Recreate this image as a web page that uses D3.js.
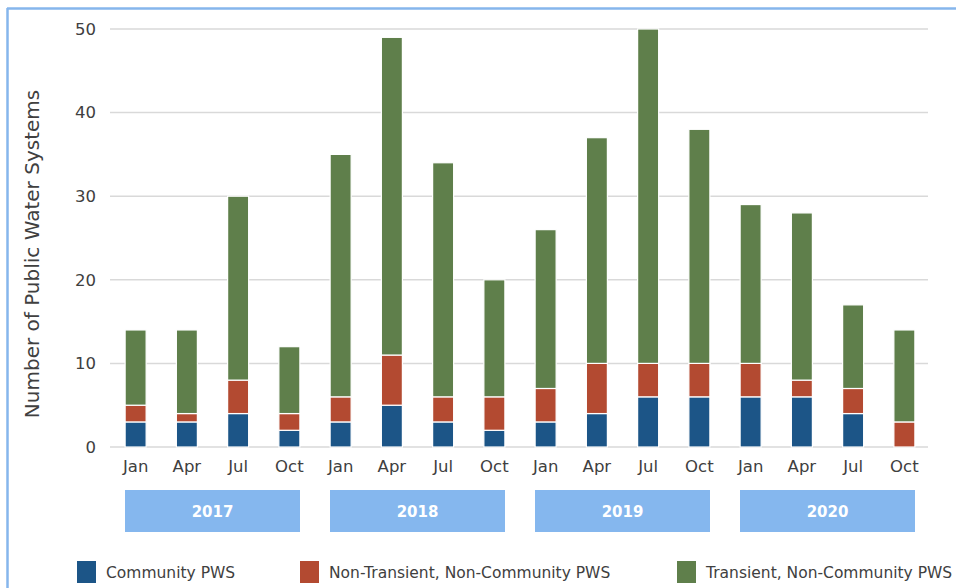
<!DOCTYPE html>
<html>
<head>
<meta charset="utf-8">
<script src="https://cdn.jsdelivr.net/npm/d3@7"></script>
<style>
  body { margin: 0; background: #fff; }
  svg text { font-family: "DejaVu Sans", sans-serif; fill: #404040; }
</style>
</head>
<body>
<svg id="chart" width="956" height="588"></svg>
<script>
// quarters, with the year they belong to
var months = ["Jan", "Apr", "Jul", "Oct"];
var years = ["2017", "2018", "2019", "2020"];
var quarters = [];
years.forEach(function(y) {
    months.forEach(function(m) { quarters.push(y + " " + m); });
});

// values
var community    = [3, 3, 4, 2,  3, 5, 3, 2,  3, 4, 6, 6,  6, 6, 4, 0];
var nonTransient = [2, 1, 4, 2,  3, 6, 3, 4,  4, 6, 4, 4,  4, 2, 3, 3];
var transient    = [9, 10, 22, 8, 29, 38, 28, 14, 19, 27, 40, 28, 19, 20, 10, 11];

var seriesNames = ["Community PWS", "Non-Transient, Non-Community PWS", "Transient, Non-Community PWS"];
var colors = ["#1c5587", "#b34a31", "#5f7f4b"];
var yTicks = [0, 10, 20, 30, 40, 50];

var svg = d3.select("#chart");

// light blue frame (top + left)
svg.append("line").attr("x1", 7).attr("x2", 956).attr("y1", 8.5).attr("y2", 8.5)
    .attr("stroke", "#86b6ec").attr("stroke-width", 2.5);
svg.append("line").attr("x1", 7.5).attr("x2", 7.5).attr("y1", 8).attr("y2", 588)
    .attr("stroke", "#86b6ec").attr("stroke-width", 2.5);

var x = d3.scaleBand().domain(quarters).range([110, 930]).paddingInner(0.59).paddingOuter(0.295);
var y = d3.scaleLinear().domain([0, 50]).range([447, 29]);

// gridlines
svg.append("g").selectAll("line").data(yTicks).enter().append("line")
    .attr("x1", 110).attr("x2", 928)
    .attr("y1", function(d) { return y(d); }).attr("y2", function(d) { return y(d); })
    .attr("stroke", "#d9d9d9").attr("stroke-width", 1.5);

// y tick labels
var yAxis = svg.append("g").attr("transform", "translate(110,0)")
    .call(d3.axisLeft(y).tickValues(yTicks).tickSize(0).tickPadding(14));
yAxis.select(".domain").remove();
yAxis.selectAll("text").style("font-size", "16.5px").style("font-family", "DejaVu Sans, sans-serif").attr("fill", "#404040");

svg.append("text")
    .attr("transform", "translate(39,254) rotate(-90)")
    .attr("text-anchor", "middle")
    .style("font-size", "20px")
    .text("Number of Public Water Systems");

// stacked bars
var rows = quarters.map(function(q, i) {
    return { q: q, c: community[i], n: nonTransient[i], t: transient[i] };
});
var stack = d3.stack().keys(["c", "n", "t"])(rows);

svg.append("g").selectAll("g").data(stack).enter().append("g")
    .attr("fill", function(d, i) { return colors[i]; })
    .selectAll("rect").data(function(d) { return d; }).enter().append("rect")
    .filter(function(d) { return d[1] > d[0]; })
    .attr("x", function(d) { return x(d.data.q); })
    .attr("width", x.bandwidth())
    .attr("y", function(d) { return y(d[1]); })
    .attr("height", function(d) { return y(d[0]) - y(d[1]); })
    .attr("stroke", "#fff").attr("stroke-width", 1.2);

// month labels
var xAxis = svg.append("g").attr("transform", "translate(0,447)")
    .call(d3.axisBottom(x).tickSize(0).tickPadding(13).tickFormat(function(d) { return d.split(" ")[1]; }));
xAxis.select(".domain").remove();
xAxis.selectAll("text").style("font-size", "16.5px").style("font-family", "DejaVu Sans, sans-serif").attr("fill", "#404040");

// year boxes
var step = x.step();
var yearBox = svg.append("g").selectAll("g").data(years).enter().append("g");
yearBox.append("rect")
    .attr("x", function(d, i) { return 110 + i * 4 * step + 15; })
    .attr("y", 490)
    .attr("width", 4 * step - 30)
    .attr("height", 42)
    .attr("fill", "#85b7ee");
yearBox.append("text")
    .attr("x", function(d, i) { return 110 + (i * 4 + 2) * step; })
    .attr("y", 517)
    .attr("text-anchor", "middle")
    .style("font-size", "15px").style("font-weight", "bold")
    .style("fill", "#fff")
    .text(function(d) { return d; });

// legend
var legendX = [77, 300, 677];
var legend = svg.append("g").selectAll("g").data(seriesNames).enter().append("g")
    .attr("transform", function(d, i) { return "translate(" + legendX[i] + ",561)"; });
legend.append("rect").attr("width", 19).attr("height", 22)
    .attr("fill", function(d, i) { return colors[i]; });
legend.append("text").attr("x", 29).attr("y", 17)
    .style("font-size", "15.5px")
    .text(function(d) { return d; });
</script>
</body>
</html>
